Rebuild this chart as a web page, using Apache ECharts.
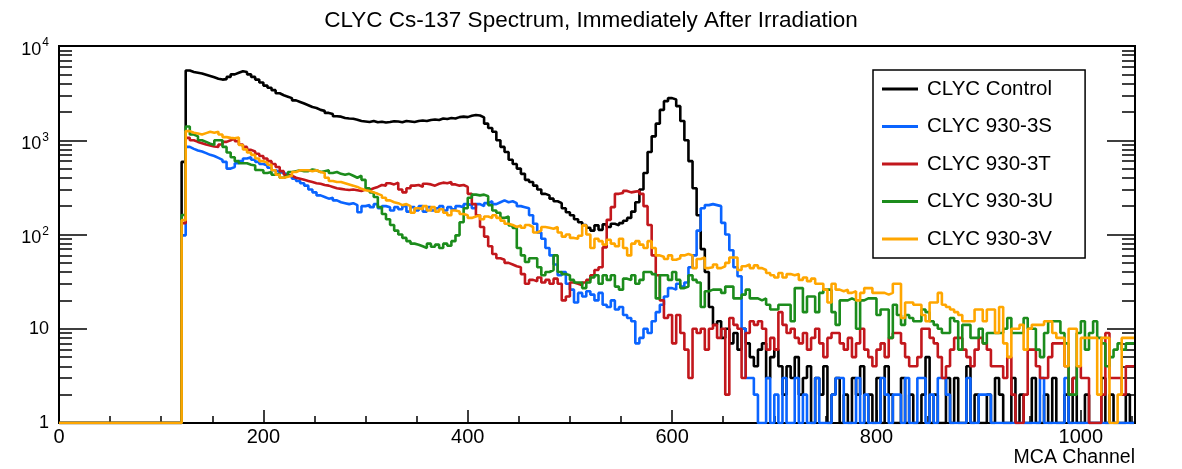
<!DOCTYPE html>
<html>
<head>
<meta charset="utf-8">
<title>CLYC Cs-137 Spectrum</title>
<script src="https://cdn.jsdelivr.net/npm/echarts@6.0.0/dist/echarts.min.js"></script>
<style>
  html, body { margin: 0; padding: 0; background: #fff; }
  #chart { width: 1182px; height: 469px; }
</style>
</head>
<body>
<div id="chart"></div>
<script>
// histogram layout: 4-channel bins, counts start at bin 30 (channel 120)
var binWidth = 4, firstBin = 30, nBins = 263;

var names = ["CLYC Control", "CLYC 930-3S", "CLYC 930-3T", "CLYC 930-3U", "CLYC 930-3V"];
var colors = ["#000000", "#0a64ff", "#c2171c", "#1c8c1c", "#ffa600"];

var xMajorTicks = [0, 200, 400, 600, 800, 1000];
var xMinorTicks = [50, 100, 150, 250, 300, 350, 450, 500, 550, 650, 700, 750, 850, 900, 950, 1050];
var yMajorTicks = [1, 10, 100, 1000, 10000];
var yMinorTicks = [2, 3, 4, 5, 6, 7, 8, 9, 20, 30, 40, 50, 60, 70, 80, 90,
    200, 300, 400, 500, 600, 700, 800, 900, 2000, 3000, 4000, 5000, 6000, 7000, 8000, 9000];

var control = [
    590, 5500, 5300, 5200, 5100, 4950, 4800, 4650, 4500, 4400,
    4450, 4700, 5000, 5200, 5400, 5300, 5000, 4700, 4400, 4100,
    3800, 3600, 3400, 3150, 3000, 2900, 2800, 2650, 2550, 2450,
    2350, 2250, 2200, 2100, 2050, 1950, 1900, 1800, 1780, 1720,
    1700, 1690, 1650, 1600, 1580, 1560, 1600, 1550, 1570, 1540,
    1560, 1590, 1580, 1550, 1600, 1580, 1560, 1600, 1620, 1600,
    1640, 1660, 1640, 1700, 1680, 1720, 1700, 1760, 1780, 1760,
    1820, 1850, 1830, 1750, 1500, 1350, 1230, 1000, 850, 750,
    620, 560, 500, 440, 380, 360, 330, 300, 270, 260,
    240, 225, 215, 190, 172, 160, 145, 135, 126, 118,
    110, 125, 112, 128, 120, 130, 125, 132, 140, 150,
    175, 220, 300, 450, 750, 1100, 1500, 2100, 2600, 2800,
    2700, 2300, 1600, 1000, 600, 310, 160, 70, 40, 17,
    11, 12, 8, 10, 7, 9, 6, 10, 7, 5,
    4, 6, 7, 3, 5, 6, 4, 2, 4, 3,
    5, 2, 3, 4, 1, 3, 2, 4, 1, 2,
    3, 1, 2, 0, 3, 2, 4, 1, 2, 0,
    3, 1, 4, 2, 0, 1, 3, 0, 2, 1,
    0, 2, 5, 0, 2, 1, 0, 3, 1, 3,
    0, 1, 4, 0, 2, 0, 1, 2, 0, 3,
    2, 0, 1, 3, 0, 2, 0, 0, 3, 1,
    0, 2, 0, 3, 1, 0, 2, 0, 3, 0,
    1, 2, 0, 0, 1, 3, 0, 2, 0, 1,
    0, 2, 0
];

var s3S = [
    98, 850, 810, 780, 760, 730, 700, 680, 650, 620,
    590, 500, 520, 570, 600, 640, 660, 620, 590, 560,
    540, 510, 480, 460, 450, 430, 410, 390, 370, 350,
    330, 300, 280, 260, 250, 240, 245, 230, 220, 215,
    210, 215, 205, 172, 200, 205, 195, 210, 190, 200,
    195, 180, 195, 185, 200, 175, 195, 180, 200, 175,
    195, 180, 190, 200, 180, 195, 185, 200, 195, 210,
    205, 190, 210, 200, 215, 225, 210, 220, 230, 220,
    225, 215, 200, 195, 190, 160, 130, 105, 90, 72,
    60, 48, 37, 40, 30, 26, 19, 24, 22, 25,
    23, 20, 24, 18, 17, 20, 16, 17, 14, 13,
    12, 7, 8, 10, 9, 12, 15, 18, 22, 27,
    26, 30, 28, 31, 45, 60, 110, 190, 205, 210,
    205, 200, 133, 100, 68, 45, 36, 10, 3, 3,
    2, 1, 0, 3, 0, 2, 0, 3, 1, 0,
    3, 0, 2, 0, 0, 3, 1, 0, 0, 2,
    3, 3, 0, 0, 1, 3, 0, 2, 0, 0,
    0, 3, 2, 0, 2, 2, 0, 3, 0, 1,
    3, 3, 0, 2, 0, 3, 3, 2, 0, 0,
    0, 0, 3, 0, 0, 2, 2, 2, 0, 0,
    0, 0, 0, 0, 0, 0, 0, 0, 0, 0,
    3, 0, 0, 0, 0, 0, 3, 0, 0, 0,
    0, 0, 0, 0, 0, 0, 0, 0, 0, 0,
    0, 0, 0
];

var s3T = [
    132, 1060, 1000, 960, 930, 900, 880, 860, 850, 900,
    960, 1000, 1050, 980, 900, 850, 790, 760, 720, 680,
    640, 600, 560, 520, 470, 430, 420, 400, 390, 380,
    370, 360, 350, 345, 335, 330, 320, 310, 305, 300,
    297, 300, 295, 290, 300, 297, 310, 320, 335, 330,
    350, 340, 355, 300, 280, 310, 330, 335, 320, 345,
    340, 330, 345, 355, 350, 360, 340, 330, 335, 320,
    270, 210, 160, 120, 95, 75, 62, 56, 54, 50,
    48, 46, 45, 38, 30, 33, 32, 35, 31, 33,
    30, 34, 30, 20, 22, 31, 30, 29, 31, 33,
    37, 42, 45, 73, 143, 195, 270, 275, 290, 280,
    285, 290, 270, 200, 126, 60, 37, 20, 13, 14,
    7, 14, 9, 6, 3, 10, 9, 10, 6, 10,
    11, 8, 10, 2, 13, 11, 10, 3, 9, 12,
    11, 12, 10, 6, 8, 6, 15, 11, 9, 10,
    8, 7, 9, 6, 8, 10, 7, 5, 8, 9,
    9, 7, 6, 8, 5, 7, 10, 6, 5, 4,
    6, 7, 5, 8, 9, 9, 7, 5, 4, 4,
    5, 10, 10, 8, 7, 5, 3, 4, 6, 8,
    8, 6, 5, 4, 6, 8, 7, 6, 4, 4,
    4, 3, 5, 2, 0, 0, 2, 6, 6, 4,
    3, 3, 5, 7, 7, 7, 4, 2, 3, 4,
    3, 3, 0, 0, 0, 2, 9, 3, 3, 3,
    2, 4, 4
];

var s3U = [
    161, 1400, 1150, 1100, 1000, 960, 920, 890, 1000, 1000,
    850, 740, 660, 600, 570, 570, 550, 540, 483, 480,
    450, 460, 430, 440, 400, 420, 460, 470, 480, 470,
    470, 490, 480, 460, 470, 480, 450, 460, 440, 430,
    440, 420, 400, 420, 380, 310, 280, 250, 195, 165,
    145, 126, 110, 100, 92, 85, 80, 78, 75, 72,
    80, 74, 78, 72, 80, 76, 85, 98, 135, 190,
    245, 265, 260, 265, 255, 205, 180, 170, 150, 155,
    125, 117, 72, 60, 51, 56, 56, 45, 37, 40,
    42, 60, 40, 38, 37, 33, 31, 31, 27, 31,
    35, 37, 30, 37, 33, 37, 28, 26, 34, 33,
    37, 30, 33, 40, 40, 38, 21, 37, 37, 33,
    40, 33, 27, 28, 37, 33, 31, 17, 25, 26,
    26, 26, 24, 28, 28, 21, 21, 23, 26, 21,
    21, 20, 21, 18, 16, 16, 18, 18, 18, 12,
    27, 27, 15, 22, 22, 15, 24, 26, 26, 15,
    11, 20, 20, 21, 20, 10, 20, 21, 21, 21,
    14, 16, 16, 8, 18, 14, 11, 14, 13, 12,
    12, 16, 15, 12, 11, 10, 9, 9, 13, 12,
    6, 11, 11, 8, 8, 10, 7, 9, 9, 9,
    9, 10, 13, 9, 9, 9, 13, 10, 10, 6,
    5, 9, 12, 12, 12, 9, 7, 2, 2, 9,
    12, 6, 9, 12, 8, 7, 4, 5, 6, 7,
    6, 7, 7
];

var s3V = [
    142, 1250, 1200, 1180, 1150, 1190, 1230, 1200, 1230, 1150,
    1080, 1060, 1050, 1070, 890, 800, 740, 700, 640, 600,
    580, 550, 480, 430, 400, 410, 420, 460, 480, 480,
    480, 470, 480, 460, 450, 400, 370, 360, 360, 350,
    340, 330, 320, 305, 295, 290, 280, 270, 260, 245,
    230, 220, 215, 205, 210, 200, 170, 190, 185, 200,
    180, 195, 175, 185, 170, 160, 180, 175, 165, 160,
    150, 155, 160, 145, 155, 150, 160, 150, 140, 130,
    126, 120, 125, 118, 126, 120, 105, 110, 120, 118,
    115, 120, 105, 95, 100, 92, 90, 97, 125, 100,
    72, 90, 85, 78, 88, 80, 75, 90, 72, 60,
    80, 85, 78, 72, 85, 72, 60, 58, 55, 60,
    54, 56, 60, 62, 60, 44, 55, 57, 44, 45,
    48, 44, 46, 50, 57, 57, 42, 46, 48, 44,
    47, 44, 42, 39, 37, 35, 39, 35, 38, 37,
    38, 33, 35, 32, 34, 30, 30, 26, 19, 30,
    26, 25, 26, 24, 25, 20, 24, 27, 27, 24,
    24, 24, 23, 24, 30, 30, 13, 19, 19, 18,
    18, 14, 12, 19, 19, 24, 18, 17, 16, 15,
    14, 12, 12, 12, 16, 16, 12, 16, 16, 9,
    17, 7, 5, 10, 10, 11, 6, 10, 11, 11,
    11, 12, 12, 9, 8, 8, 4, 10, 10, 4,
    8, 8, 8, 8, 2, 8, 8, 0, 0, 2,
    8, 8, 8
];

// bin left edges + closing edge, empty bins sit on the axis floor (1)
function toSteps(counts) {
    var pts = [];
    for (var i = 0; i < nBins; i++) {
        var c = i < firstBin ? 0 : counts[i - firstBin];
        pts.push([i * binWidth, Math.max(c, 1)]);
    }
    pts.push([nBins * binWidth, pts[pts.length - 1][1]]);
    return pts;
}

var font = "Liberation Sans";
var allCounts = [control, s3S, s3T, s3U, s3V];

var series = allCounts.map(function (counts, k) {
    return {
        name: names[k],
        type: "line",
        step: "end",
        symbol: "none",
        xAxisIndex: 0,
        yAxisIndex: 0,
        data: toSteps(counts),
        lineStyle: { width: 2.6, color: colors[k] },
        itemStyle: { color: colors[k] },
        z: 2 + k
    };
});

function logAxis(grid, pos, ticks, len, labels) {
    return {
        gridIndex: grid,
        type: "log",
        logBase: 10,
        min: 1,
        max: 10000,
        position: pos,
        axisLine: { show: true, lineStyle: { color: "#000", width: 2 } },
        axisTick: { show: true, inside: true, length: len, customValues: ticks, lineStyle: { color: "#000", width: 1.5 } },
        axisLabel: labels ? {
            show: true,
            customValues: yMajorTicks,
            margin: 10,
            formatter: function (v) {
                var p = Math.round(Math.log10(v));
                return p < 2 ? "{b|" + Math.round(v) + "}" : "{p|10}{s|" + p + "}";
            },
            rich: {
                b: { fontSize: 18, color: "#000", fontFamily: font, lineHeight: 18 },
                p: { fontSize: 18, color: "#000", fontFamily: font, lineHeight: 18, padding: [8, 0, 0, 0] },
                s: { fontSize: 12, color: "#000", fontFamily: font, lineHeight: 12, padding: [4, 0, 10, 1] }
            }
        } : { show: false },
        splitLine: { show: false }
    };
}

var option = {
    animation: false,
    backgroundColor: "#fff",
    textStyle: { fontFamily: font },
    title: {
        text: "CLYC Cs-137 Spectrum, Immediately After Irradiation",
        left: "center",
        top: 4,
        textStyle: { fontSize: 22.5, fontWeight: "normal", color: "#000", fontFamily: font }
    },
    legend: {
        orient: "vertical",
        left: 873,
        top: 70,
        backgroundColor: "#fff",
        borderColor: "#000",
        borderWidth: 1.5,
        padding: [8, 32, 8, 9],
        icon: "rect",
        itemWidth: 36,
        itemHeight: 3,
        itemGap: 15.5,
        textStyle: { fontSize: 20.5, color: "#000", fontFamily: font, lineHeight: 22, padding: [0, 0, 0, 4] },
        data: names
    },
    grid: [
        { left: 59, right: 47, top: 46, bottom: 46, show: true, borderColor: "#000", borderWidth: 2 },
        { left: 59, right: 47, top: 46, bottom: 46, show: false }
    ],
    xAxis: [
        {
            gridIndex: 0,
            type: "value",
            min: 0,
            max: 1053,
            position: "bottom",
            name: "MCA Channel",
            nameLocation: "end",
            nameGap: 0,
            nameTextStyle: { fontSize: 19.5, color: "#000", fontFamily: font, align: "right", verticalAlign: "top", padding: [25, 0, 0, 0] },
            axisLine: { show: true, onZero: false, lineStyle: { color: "#000", width: 2 } },
            axisTick: { show: true, inside: true, length: 13, customValues: xMajorTicks, lineStyle: { color: "#000", width: 1.5 } },
            axisLabel: {
                customValues: xMajorTicks, fontSize: 20, color: "#000", margin: 4, fontFamily: font,
                formatter: function (v) { return String(Math.round(v)); }
            },
            splitLine: { show: false }
        },
        {
            gridIndex: 1,
            type: "value",
            min: 0,
            max: 1053,
            position: "bottom",
            axisLine: { show: false, onZero: false },
            axisTick: { show: true, inside: true, length: 7, customValues: xMinorTicks, lineStyle: { color: "#000", width: 1.5 } },
            axisLabel: { show: false },
            splitLine: { show: false }
        }
    ],
    yAxis: [
        logAxis(0, "left", yMajorTicks, 28, true),
        logAxis(0, "right", yMajorTicks, 28, false),
        logAxis(1, "left", yMinorTicks, 13, false),
        logAxis(1, "right", yMinorTicks, 13, false)
    ],
    series: series
};

echarts.init(document.getElementById("chart")).setOption(option);
</script>
</body>
</html>
